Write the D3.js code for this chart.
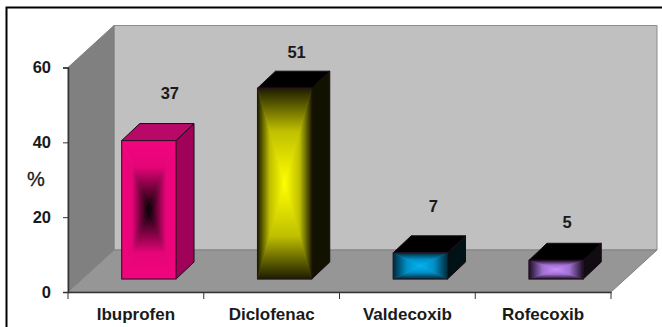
<!DOCTYPE html>
<html>
<head>
<meta charset="utf-8">
<script src="https://cdn.jsdelivr.net/npm/d3@7/dist/d3.min.js"></script>
<style>
html,body{margin:0;padding:0;background:#fff;}
svg{display:block;}
text{font-family:"Liberation Sans",Arial,sans-serif;fill:#1a1a1a;}
</style>
</head>
<body>
<svg id="chart" width="662" height="327"></svg>
<script>
// NSAID usage, percent of prescriptions
const drugs = ["Ibuprofen", "Diclofenac", "Valdecoxib", "Rofecoxib"];
const percents = [37, 51, 7, 5];
const yTicks = [0, 20, 40, 60];

// Bar colouring: rim and core of the front-face gradient, then side and cap faces
const rimColors = ["#f2047f", "#1c1c00", "#002a3a", "#1a0e24"];
const midColors = ["#e60478", "#bfbf00", "#0090c8", "#a070d0"];
const coreColors = ["#000000", "#ffff00", "#00b4f4", "#cc8cff"];
const sideColors = ["#a0025a", "#121200", "#001216", "#100c12"];
const capColors = ["#b80868", "#000000", "#000000", "#000000"];
const midStops = [0.38, 0.45, 0.5, 0.5];

// Value labels float above and to the right of each bar
const labelLift = [47, 36, 47, 38];
const labelDrift = [21, 12, 13, 11];

// 3D box geometry of the plot
const depthX = 46, depthY = -42;   // wall depth
const barShiftX = 13, barShiftY = -13; // bars stand inside the floor
const barDepthX = 18, barDepthY = -17;

const svg = d3.select("#chart");
const x = d3.scaleBand().domain(drugs).range([68, 611]).paddingInner(0.6).paddingOuter(0.3);
const y = d3.scaleLinear().domain([0, 60]).range([292, 67.5]);

const poly = pts => pts.map(p => p.join(",")).join(" ");
const [x0, x1] = x.range();
const [y0, y1] = y.range();

// Frame
svg.append("path").attr("d", "M6.5,327V7.5H662").attr("fill", "none").attr("stroke", "#000").attr("stroke-width", 2);

// Walls and floor
svg.append("polygon").attr("points", poly([[x0 + depthX, y1 + depthY], [x1 + depthX, y1 + depthY], [x1 + depthX, y0 + depthY], [x0 + depthX, y0 + depthY]]))
  .attr("fill", "#c0c0c0").attr("stroke", "#8c8c8c");
svg.append("polygon").attr("points", poly([[x0, y1], [x0 + depthX, y1 + depthY], [x0 + depthX, y0 + depthY], [x0, y0]]))
  .attr("fill", "#808080").attr("stroke", "#808080");
svg.append("polygon").attr("points", poly([[x0, y0], [x0 + depthX, y0 + depthY], [x1 + depthX, y0 + depthY], [x1, y0]]))
  .attr("fill", "#969696").attr("stroke", "#808080");

const defs = svg.append("defs");

// Front faces use a rectangular gradient: four triangles meeting at the centre
function frontFace(g, i, l, t, r, b) {
  const cx = (l + r) / 2, cy = (t + b) / 2;
  const parts = [
    {id: "t", v: [cx, t, cx, cy], pts: [[l, t], [r, t], [cx, cy]]},
    {id: "b", v: [cx, b, cx, cy], pts: [[l, b], [r, b], [cx, cy]]},
    {id: "l", v: [l, cy, cx, cy], pts: [[l, t], [l, b], [cx, cy]]},
    {id: "r", v: [r, cy, cx, cy], pts: [[r, t], [r, b], [cx, cy]]}
  ];
  parts.forEach(p => {
    const id = `bar${i}${p.id}`;
    const grad = defs.append("linearGradient").attr("id", id).attr("gradientUnits", "userSpaceOnUse")
      .attr("x1", p.v[0]).attr("y1", p.v[1]).attr("x2", p.v[2]).attr("y2", p.v[3]);
    grad.append("stop").attr("offset", 0).attr("stop-color", rimColors[i]);
    grad.append("stop").attr("offset", midStops[i]).attr("stop-color", midColors[i]);
    grad.append("stop").attr("offset", 1).attr("stop-color", coreColors[i]);
    g.append("polygon").attr("points", poly(p.pts)).attr("fill", `url(#${id})`)
      .attr("stroke", `url(#${id})`).attr("stroke-width", 0.6);
  });
  g.append("rect").attr("x", l).attr("y", t).attr("width", r - l).attr("height", b - t)
    .attr("fill", "none").attr("stroke", "#2a1020").attr("stroke-width", 1);
}

// Bars
drugs.forEach((d, i) => {
  const l = x(d) + barShiftX, r = l + x.bandwidth();
  const b = y(0) + barShiftY, t = y(percents[i]) + barShiftY;
  const g = svg.append("g");
  g.append("polygon").attr("points", poly([[r, t], [r + barDepthX, t + barDepthY], [r + barDepthX, b + barDepthY], [r, b]]))
    .attr("fill", sideColors[i]).attr("stroke", "#1a0a14");
  g.append("polygon").attr("points", poly([[l, t], [l + barDepthX, t + barDepthY], [r + barDepthX, t + barDepthY], [r, t]]))
    .attr("fill", capColors[i]).attr("stroke", "#1a0a14");
  frontFace(g, i, l, t, r, b);

  svg.append("text")
    .attr("x", l + x.bandwidth() / 2 + labelDrift[i])
    .attr("y", t - labelLift[i])
    .attr("dy", "0.36em")
    .attr("text-anchor", "middle")
    .attr("font-size", 16.5).attr("font-weight", "bold")
    .text(percents[i]);
});

// Value axis
const yAxis = svg.append("g").attr("transform", `translate(${x0},0)`)
  .call(d3.axisLeft(y).tickValues(yTicks).tickSize(5).tickPadding(12));
yAxis.selectAll("text").attr("font-size", 16.5).attr("font-weight", "bold").style("font-family", "inherit").attr("fill", "#1a1a1a");
yAxis.selectAll("line,path").attr("stroke", "#333");
yAxis.select(".domain").attr("stroke-width", 1.5);

// Category axis with ticks on the band boundaries
const xAxis = svg.append("g").attr("transform", `translate(0,${y0})`)
  .call(d3.axisBottom(x).tickSize(0).tickPadding(16));
xAxis.selectAll("text").attr("font-size", 17).attr("font-weight", "bold")
  .style("font-family", "inherit").attr("fill", "#1a1a1a");
xAxis.selectAll(".domain").attr("stroke", "#333").attr("stroke-width", 1.5);
d3.range(drugs.length + 1).forEach(k => {
  const tx = x0 + k * x.step();
  xAxis.append("line").attr("x1", tx).attr("x2", tx).attr("y1", 0).attr("y2", 7).attr("stroke", "#333");
});

// Axis title
svg.append("text").attr("x", 36).attr("y", 179).attr("dy", "0.36em").attr("text-anchor", "middle")
  .attr("font-size", 20).attr("stroke", "#1a1a1a").attr("stroke-width", 0.3).text("%");
</script>
</body>
</html>
